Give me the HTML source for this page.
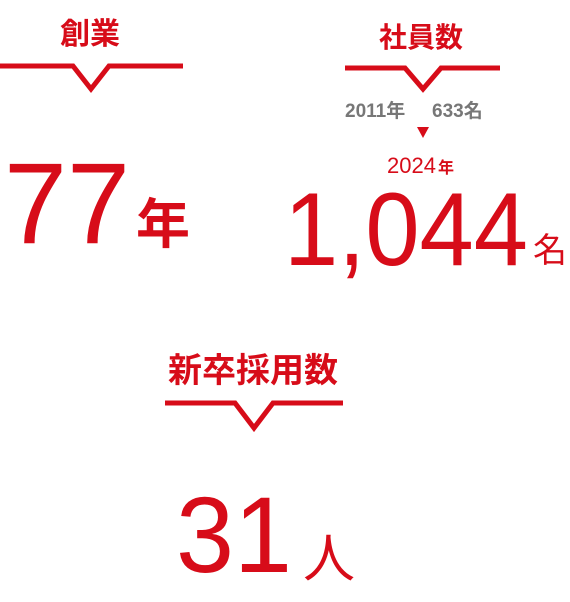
<!DOCTYPE html>
<html><head><meta charset="utf-8"><style>
html,body{margin:0;padding:0;background:#fff;width:570px;height:602px;overflow:hidden}
svg text{font-family:"Liberation Sans","Noto Sans CJK JP",sans-serif}
</style></head><body>
<svg width="570" height="602" viewBox="0 0 570 602">
<g fill="#d70c19">
<g>
<text x="90" y="44" font-size="30" font-weight="bold" text-anchor="middle">創業</text>
<polyline points="0,66 73,66 91,89 109,66 183,66" fill="none" stroke="#d70c19" stroke-width="5"/>
<text x="4" y="243" font-size="115" textLength="126" lengthAdjust="spacingAndGlyphs">77</text>
<text x="136" y="243" font-size="54" font-weight="bold">年</text>
</g>
<g>
<text x="421" y="47" font-size="28" font-weight="bold" text-anchor="middle">社員数</text>
<polyline points="345,68 405,68 423,89 441,68 500,68" fill="none" stroke="#d70c19" stroke-width="5"/>
<text x="345" y="117" font-size="19" font-weight="bold" fill="#777">2011年</text>
<text x="432" y="117" font-size="19" font-weight="bold" fill="#777">633名</text>
<polygon points="417,127 429,127 423,138"/>
<text x="387" y="173" font-size="22">2024</text>
<text x="438" y="173" font-size="16" font-weight="bold">年</text>
<text x="284" y="265" font-size="104" textLength="244" lengthAdjust="spacingAndGlyphs">1,044</text>
<text x="533" y="262" font-size="34">名</text>
</g>
<g>
<text x="253" y="382" font-size="34" font-weight="bold" text-anchor="middle">新卒採用数</text>
<polyline points="165,403 235,403 254,428 273,403 343,403" fill="none" stroke="#d70c19" stroke-width="5"/>
<text x="176" y="572" font-size="108" textLength="116" lengthAdjust="spacingAndGlyphs">31</text>
<text x="303" y="577" font-size="52">人</text>
</g>
</g>
</svg>
</body></html>
